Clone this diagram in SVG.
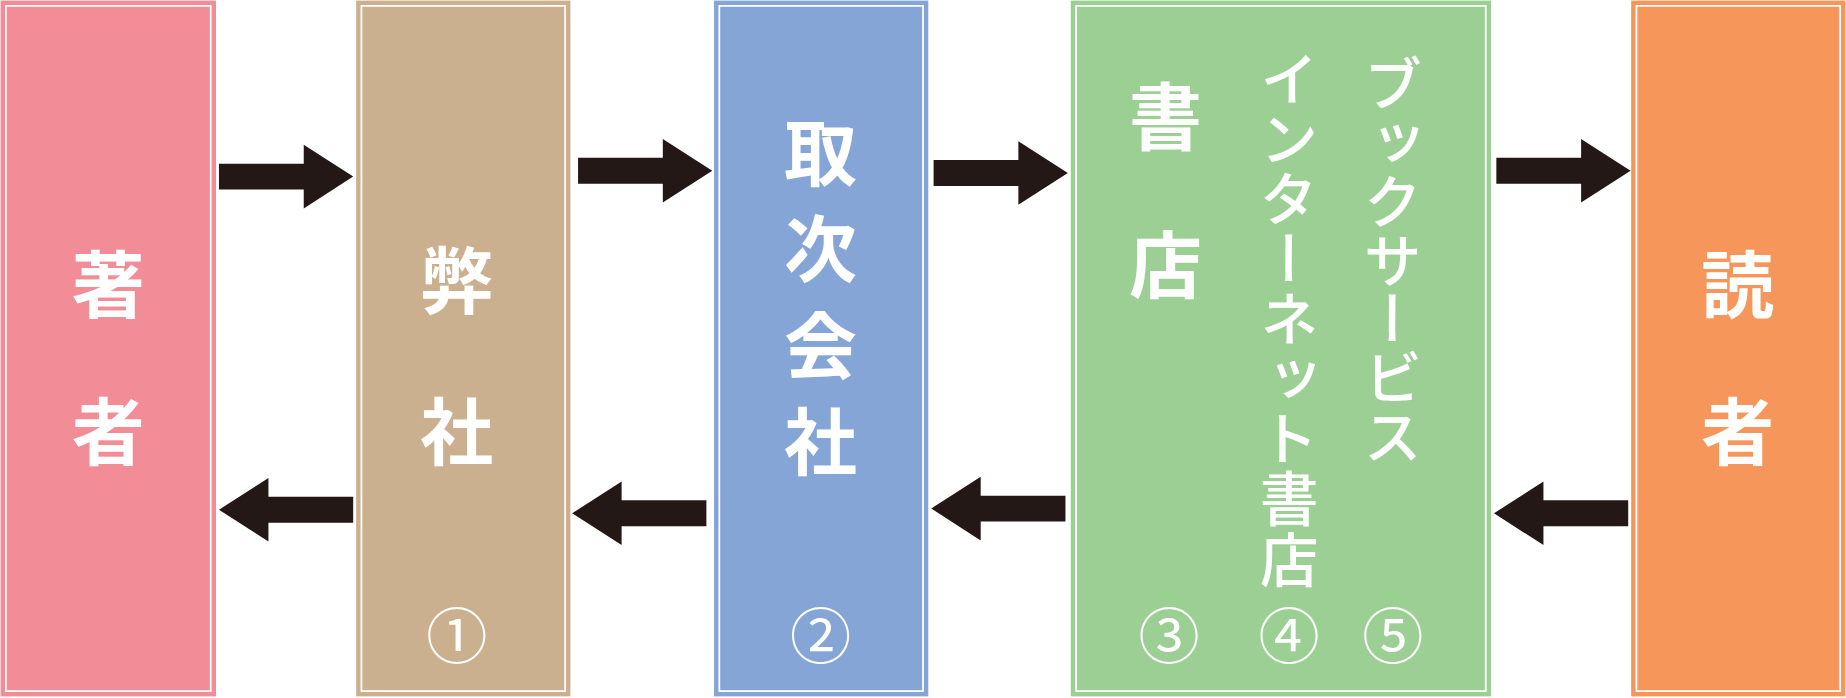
<svg xmlns="http://www.w3.org/2000/svg" width="1846" height="698" viewBox="0 0 1846 698">
<style>
.box{stroke-width:3}
.inner{fill:none;stroke:#fff;stroke-width:1.5}
text{font-family:"Noto Sans CJK JP","Noto Sans",sans-serif;fill:#fff;text-anchor:middle}
.big{font-size:62px;font-weight:700}
.mid{font-size:50px;font-weight:500}
.num{font-size:52px;font-weight:400}
.vt{writing-mode:vertical-rl;text-anchor:start}
.ar{fill:#231815}
</style>
<defs>
<path id="ra" d="M0,-11 H72 V-27 L114,0 L72,27 V11 H0 Z"/>
</defs>
<g transform="scale(1.1773)">
<g id="author"><rect class="box" x="2" y="2" width="180" height="588" fill="#F28C96" stroke="#F28C96"/><rect class="inner" x="5" y="5" width="174" height="582"/>
<text class="big" x="92" y="265">著</text><text class="big" x="92" y="390">者</text></g>
<g id="publisher"><rect class="box" x="304" y="2" width="179" height="588" fill="#CBB08F" stroke="#CBB08F"/><rect class="inner" x="307" y="5" width="173" height="582"/>
<text class="big" x="388" y="262">弊</text><text class="big" x="388" y="390">社</text><text class="num" x="388" y="560">①</text></g>
<g id="distributor"><rect class="box" x="608" y="2" width="179" height="588" fill="#84A5D6" stroke="#84A5D6"/><rect class="inner" x="611" y="5" width="173" height="582"/>
<text class="big vt" x="697" y="98" style="letter-spacing:20px">取次会社</text><text class="num" x="697" y="560">②</text></g>
<g id="bookstore"><rect class="box" x="911" y="2" width="354" height="588" fill="#9CCF94" stroke="#9CCF94"/><rect class="inner" x="914" y="5" width="348" height="582"/>
<text class="big" x="990" y="122">書</text><text class="big" x="990" y="248">店</text>
<text class="mid vt" x="1095" y="42" style="letter-spacing:1px">インターネット書店</text>
<text class="mid vt" x="1183" y="46">ブックサービス</text>
<text class="num" x="993" y="560">③</text><text class="num" x="1095" y="560">④</text><text class="num" x="1183" y="560">⑤</text></g>
<g id="reader"><rect class="box" x="1387" y="2" width="179" height="588" fill="#F7965A" stroke="#F7965A"/><rect class="inner" x="1390" y="5" width="173" height="582"/>
<text class="big" x="1476" y="265">読</text><text class="big" x="1476" y="390">者</text></g>
<g id="connectors" class="ar">
<use href="#ra" transform="translate(186,150)"/>
<use href="#ra" transform="translate(491,145)"/>
<use href="#ra" transform="translate(793,147)"/>
<use href="#ra" transform="translate(1271,145)"/>
<use href="#ra" transform="translate(300,433) scale(-1,1)"/>
<use href="#ra" transform="translate(600,436) scale(-1,1)"/>
<use href="#ra" transform="translate(905,432) scale(-1,1)"/>
<use href="#ra" transform="translate(1383,436) scale(-1,1)"/>
</g>
</g>
</svg>
